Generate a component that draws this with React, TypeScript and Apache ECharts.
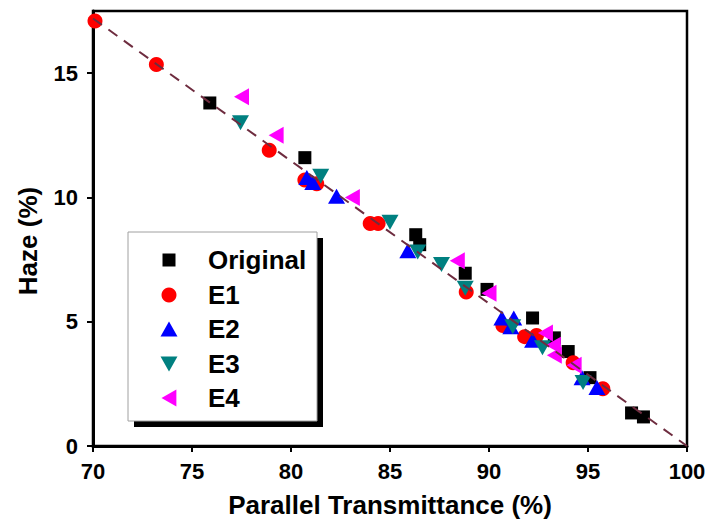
import React, { useEffect, useRef } from "react";
import * as echarts from "echarts";

const seriesNames = ["Original", "E1", "E2", "E3", "E4"];
const seriesColors = ["#000000", "#ff0000", "#0000ff", "#008080", "#ff00ff"];

const originalData = [
  [75.9, 13.8], [80.7, 11.6], [86.3, 8.5], [86.5, 8.1], [88.8, 6.95], [89.9, 6.3],
  [92.2, 5.15], [93.3, 4.35], [94.0, 3.8], [95.1, 2.75], [97.2, 1.33], [97.8, 1.17],
];
const e1Data = [
  [70.1, 17.1], [73.2, 15.35], [78.9, 11.9], [80.7, 10.7], [81.3, 10.55], [84.0, 8.95],
  [84.4, 8.95], [88.85, 6.2], [90.7, 4.85], [91.8, 4.4], [92.4, 4.45], [94.25, 3.35], [95.75, 2.3],
];
const e2Data = [
  [80.8, 10.8], [81.1, 10.6], [82.3, 10.05], [85.9, 7.85], [90.65, 5.15], [91.25, 5.15],
  [91.1, 4.8], [92.2, 4.25], [94.7, 2.75], [95.45, 2.35],
];
const e3Data = [
  [77.45, 13.0], [81.5, 10.85], [85.0, 9.0], [86.4, 7.8], [87.6, 7.3], [88.8, 6.35],
  [91.2, 4.8], [92.7, 3.95], [94.75, 2.55],
];
const e4Data = [
  [77.5, 14.05], [79.25, 12.5], [83.1, 10.0], [88.4, 7.45], [90.0, 6.15], [92.85, 4.55],
  [93.25, 4.05], [93.3, 3.65], [94.3, 3.25],
];
const fitLine = [[70, 17.2], [100, 0]];

const xTicks = { min: 70, max: 100, interval: 5 };
const yTicks = { min: 0, max: 17.5, interval: 5 };

const allData = [originalData, e1Data, e2Data, e3Data, e4Data];
const symbols = [
  "rect",
  "circle",
  "triangle",
  "path://M0,0 L2,0 L1,1.75 Z",
  "path://M1.75,0 L1.75,2 L0,1 Z",
];
const symbolSizes: any[] = [13, 15, [17, 15], [17, 15], [15, 17]];
const legendRows = [260, 295, 329, 364, 398];

const FONT = "'Liberation Sans', Arial, sans-serif";

export default function App() {
  const ref = useRef<HTMLDivElement>(null);
  useEffect(() => {
    if (!ref.current) return;
    document.body.style.margin = "0";
    const chart = echarts.init(ref.current, null, { renderer: "svg" });
    const scatter = seriesNames.map((name, i) => ({
      name,
      type: "scatter",
      data: allData[i],
      symbol: symbols[i],
      symbolSize: symbolSizes[i],
      itemStyle: { color: seriesColors[i], opacity: 1 },
      z: 2 + i * 0.01,
    }));
    const legends = seriesNames.map((name, i) => {
      const sz = symbolSizes[i];
      const w = Array.isArray(sz) ? sz[0] : sz;
      const h = Array.isArray(sz) ? sz[1] : sz;
      return {
        data: [name],
        left: 169 - w / 2,
        top: legendRows[i] - 13,
        orient: "vertical",
        itemWidth: w,
        itemHeight: h,
        padding: 0,
        selectedMode: false,
        z: 10,
        textStyle: {
          fontFamily: FONT,
          fontWeight: "bold",
          fontSize: 26,
          lineHeight: 26,
          color: "#000",
          padding: [0, 0, 0, 34 - w / 2],
        },
      };
    });
    chart.setOption({
      animation: false,
      grid: {
        left: 93, right: 23, top: 11, bottom: 82,
        show: true, borderColor: "#000", borderWidth: 2.5, backgroundColor: "transparent",
      },
      xAxis: {
        type: "value",
        min: xTicks.min, max: xTicks.max, interval: xTicks.interval,
        name: "Parallel Transmittance (%)",
        nameLocation: "middle",
        nameGap: 46,
        nameTextStyle: { fontFamily: FONT, fontWeight: "bold", fontSize: 26, color: "#000" },
        axisLine: { show: true, lineStyle: { color: "#000", width: 3 } },
        axisTick: { show: true, length: 6, lineStyle: { color: "#000", width: 2 } },
        axisLabel: { margin: 14, fontFamily: FONT, fontWeight: "bold", fontSize: 22, color: "#000" },
        splitLine: { show: false },
      },
      yAxis: {
        type: "value",
        min: yTicks.min, max: yTicks.max, interval: yTicks.interval,
        axisLine: { show: true, lineStyle: { color: "#000", width: 3 } },
        axisTick: { show: true, length: 6, lineStyle: { color: "#000", width: 2 } },
        axisLabel: {
          margin: 15, fontFamily: FONT, fontWeight: "bold", fontSize: 22, color: "#000",
          showMaxLabel: false,
          formatter: (v: number) => (v % 5 === 0 ? String(v) : ""),
        },
        splitLine: { show: false },
      },
      legend: legends,
      graphic: [
        {
          type: "text",
          x: 28, y: 241, rotation: Math.PI / 2,
          style: {
            text: "Haze (%)", align: "center", verticalAlign: "middle",
            font: `bold 26px ${FONT}`, fill: "#000",
          },
        },
        { type: "rect", z: 5, shape: { x: 134, y: 238, width: 189, height: 189 }, style: { fill: "#000" } },
        {
          type: "rect", z: 6, shape: { x: 128, y: 232, width: 189, height: 189 },
          style: { fill: "#fff", stroke: "#a0a0a0", lineWidth: 1 },
        },
      ],
      series: [
        ...scatter,
        {
          name: "fit",
          type: "line",
          data: fitLine,
          symbol: "none",
          z: 3,
          lineStyle: { color: "#6e2c3f", width: 2, type: [11, 8] },
          silent: true,
        },
      ],
    });
    return () => chart.dispose();
  }, []);
  return <div ref={ref} style={{ width: 710, height: 528 }} />;
}
